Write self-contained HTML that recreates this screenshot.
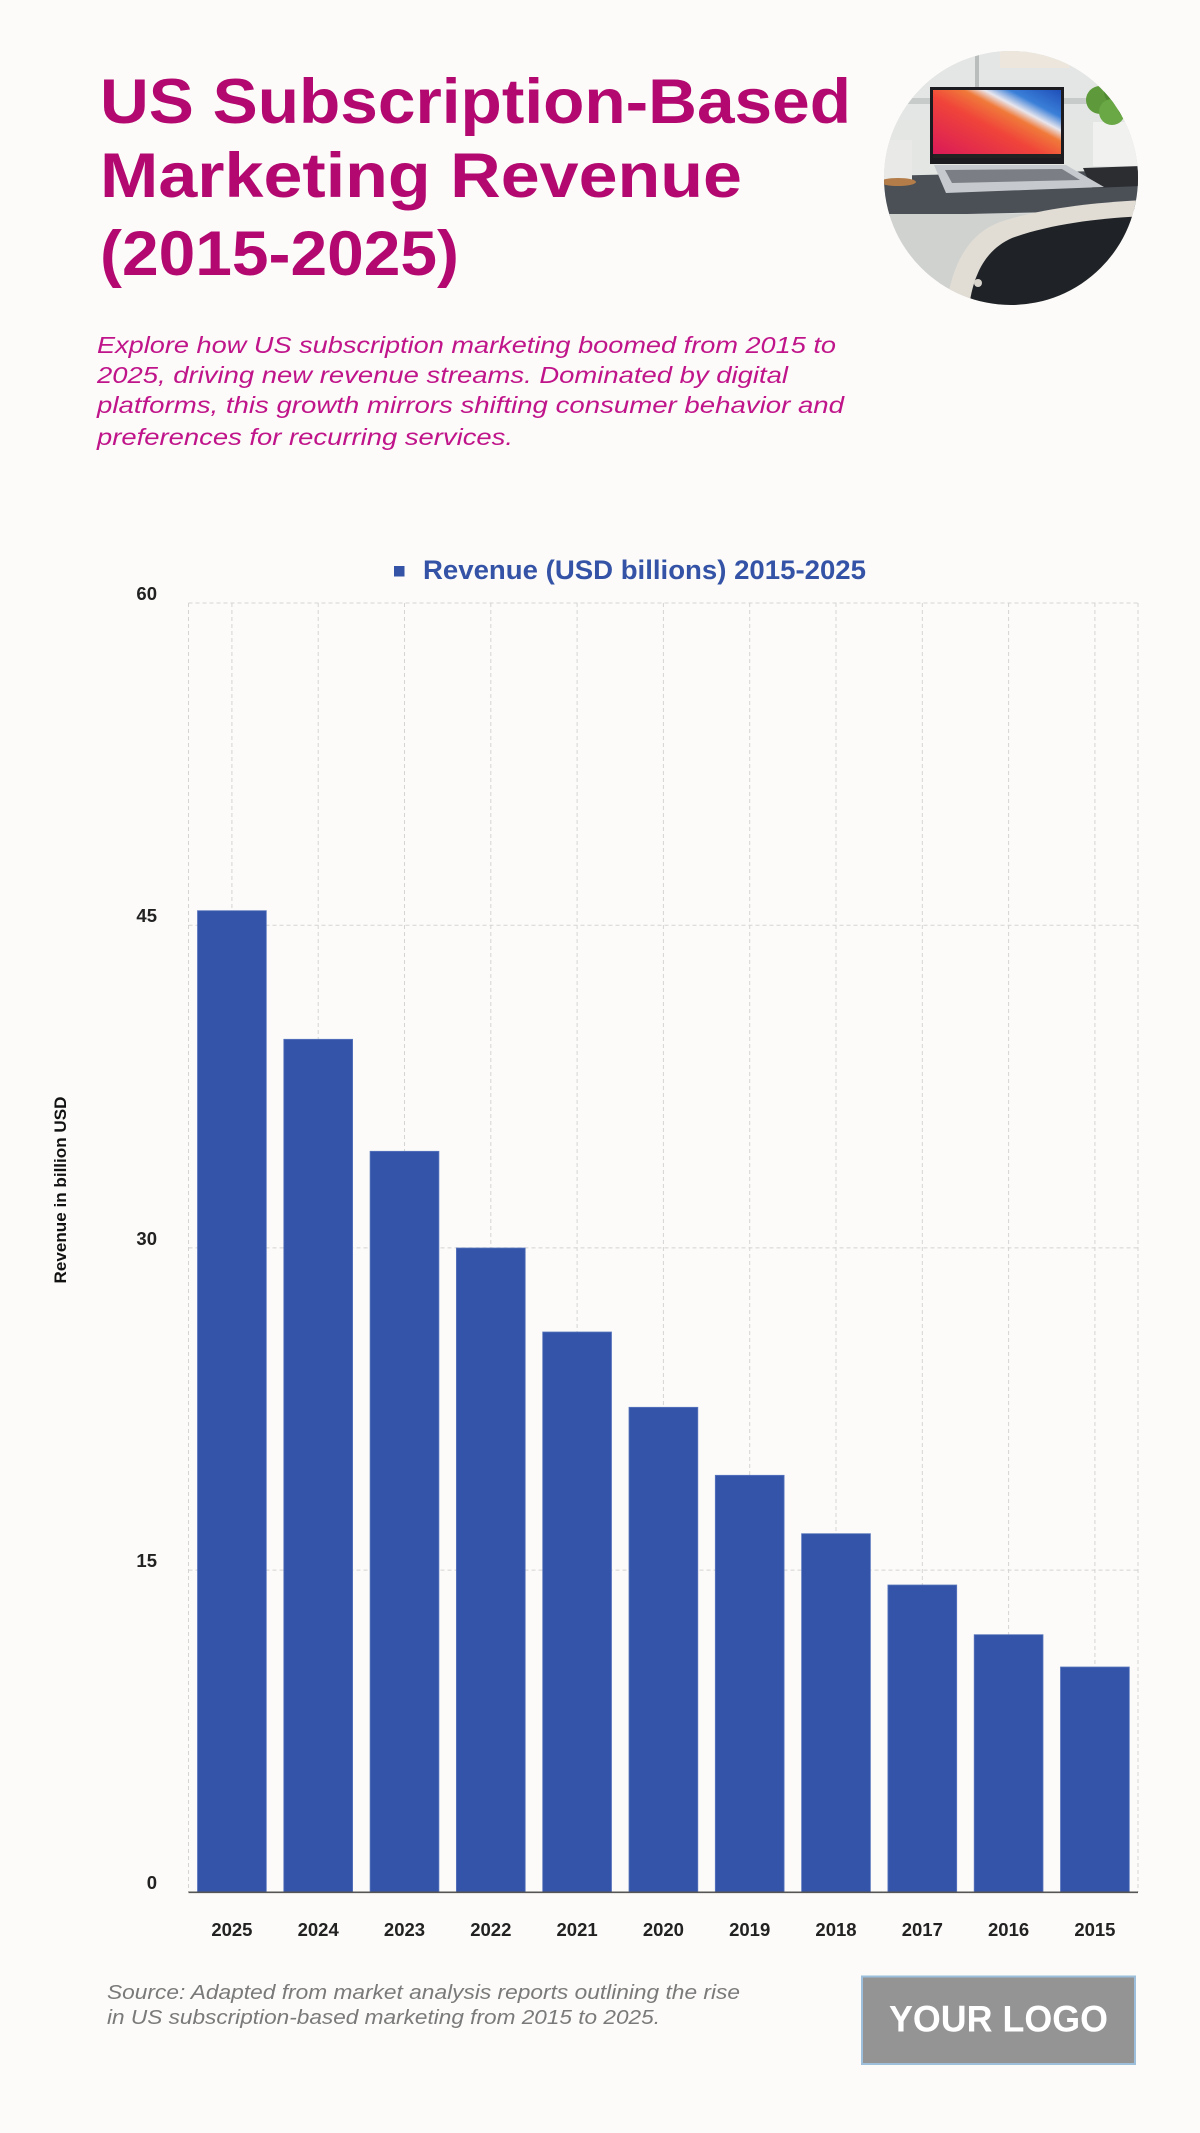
<!DOCTYPE html>
<html>
<head>
<meta charset="utf-8">
<style>
  html, body { margin: 0; padding: 0; background: #fcfbf9; }
  body { width: 1200px; height: 2133px; overflow: hidden; }
  svg { display: block; }
  .t { font-family: "Liberation Sans", sans-serif; }
</style>
</head>
<body>
<svg width="1200" height="2133" viewBox="0 0 1200 2133" xmlns="http://www.w3.org/2000/svg">
  <rect x="0" y="0" width="1200" height="2133" fill="#fcfbf9"/>

  <!-- Title -->
  <g class="t" font-weight="700" font-size="63" fill="#b2086f">
    <text x="100" y="123" textLength="751" lengthAdjust="spacingAndGlyphs">US Subscription-Based</text>
    <text x="100" y="197" textLength="642" lengthAdjust="spacingAndGlyphs">Marketing Revenue</text>
    <text x="100" y="275" textLength="359" lengthAdjust="spacingAndGlyphs">(2015-2025)</text>
  </g>

  <!-- Subtitle -->
  <g class="t" font-style="italic" font-size="23" fill="#c0148a">
    <text x="97" y="353" textLength="739" lengthAdjust="spacingAndGlyphs">Explore how US subscription marketing boomed from 2015 to</text>
    <text x="97" y="383" textLength="691" lengthAdjust="spacingAndGlyphs">2025, driving new revenue streams. Dominated by digital</text>
    <text x="97" y="413" textLength="747" lengthAdjust="spacingAndGlyphs">platforms, this growth mirrors shifting consumer behavior and</text>
    <text x="97" y="445" textLength="416" lengthAdjust="spacingAndGlyphs">preferences for recurring services.</text>
  </g>

  <!-- Photo circle -->
  <defs>
    <clipPath id="circ"><circle cx="1011" cy="178" r="127"/></clipPath>
    <linearGradient id="scr" x1="0" y1="1" x2="1" y2="0">
      <stop offset="0" stop-color="#d8175a"/>
      <stop offset="0.45" stop-color="#f0443a"/>
      <stop offset="0.62" stop-color="#f07a3a"/>
      <stop offset="0.7" stop-color="#e8e6ee"/>
      <stop offset="0.8" stop-color="#3a7fd8"/>
      <stop offset="1" stop-color="#1f4fb8"/>
    </linearGradient>
  </defs>
  <g clip-path="url(#circ)">
    <rect x="880" y="45" width="265" height="270" fill="#d7dad8"/>
    <rect x="880" y="45" width="265" height="75" fill="#e3e6e4"/>
    <rect x="1000" y="48" width="70" height="20" fill="#ece6dc"/>
    <rect x="975" y="45" width="4" height="80" fill="#b9bdbc"/>
    <rect x="880" y="98" width="265" height="6" fill="#c7cbc9"/>
    <rect x="880" y="120" width="265" height="58" fill="#e4e6e4"/>
    <!-- desk -->
    <polygon points="880,176 1145,170 1145,210 880,216" fill="#4b5057"/>
    <rect x="880" y="214" width="265" height="100" fill="#d0d2d0"/>
    <!-- mug -->
    <rect x="880" y="140" width="32" height="40" fill="#e9e9e7"/>
    <ellipse cx="898" cy="182" rx="18" ry="4" fill="#b37c48"/>
    <!-- plant -->
    <rect x="1093" y="122" width="44" height="44" fill="#f1f1ef"/>
    <circle cx="1100" cy="100" r="14" fill="#5e9a3c"/>
    <circle cx="1118" cy="92" r="14" fill="#4f8a32"/>
    <circle cx="1112" cy="112" r="13" fill="#6aa845"/>
    <circle cx="1128" cy="108" r="10" fill="#5a9438"/>
    <!-- phone -->
    <polygon points="1083,168 1140,166 1140,186 1092,188" fill="#2b2d31"/>
    <!-- laptop screen -->
    <rect x="930" y="87" width="134" height="77" fill="#1b1b20"/>
    <rect x="933" y="90" width="128" height="68" fill="url(#scr)"/>
    <rect x="933" y="154" width="128" height="4" fill="#222"/>
    <!-- laptop base -->
    <polygon points="934,165 1066,165 1104,187 946,193" fill="#c6c9cd"/>
    <polygon points="945,170 1062,169 1080,180 952,183" fill="#7b7f85"/>
    <!-- chair -->
    <path d="M945,315 C950,270 965,235 1000,222 C1040,208 1100,202 1145,200 L1145,315 Z" fill="#e1ddd5"/>
    <path d="M968,315 C972,275 985,250 1012,238 C1050,224 1100,218 1145,216 L1145,315 Z" fill="#1f2327"/>
    <circle cx="978" cy="283" r="4" fill="#d8d4cc"/>
  </g>

  <!-- Legend -->
  <rect x="394" y="566" width="10.5" height="10.5" fill="#3453a6"/>
  <text class="t" x="423" y="579" font-size="27" font-weight="700" fill="#3453a6" textLength="443" lengthAdjust="spacingAndGlyphs">Revenue (USD billions) 2015-2025</text>

  <!-- Grid -->
  <g stroke="#d4d4d4" stroke-width="1" stroke-dasharray="4 3" fill="none">
    <line x1="188.5" y1="603" x2="1138" y2="603"/>
    <line x1="188.5" y1="925.3" x2="1138" y2="925.3"/>
    <line x1="188.5" y1="1247.9" x2="1138" y2="1247.9"/>
    <line x1="188.5" y1="1570.1" x2="1138" y2="1570.1"/>
    <line x1="188.5" y1="603" x2="188.5" y2="1892"/>
    <line x1="1138" y1="603" x2="1138" y2="1892"/>
    <line x1="231.9" y1="603" x2="231.9" y2="1892"/>
    <line x1="318.2" y1="603" x2="318.2" y2="1892"/>
    <line x1="404.5" y1="603" x2="404.5" y2="1892"/>
    <line x1="490.8" y1="603" x2="490.8" y2="1892"/>
    <line x1="577.1" y1="603" x2="577.1" y2="1892"/>
    <line x1="663.4" y1="603" x2="663.4" y2="1892"/>
    <line x1="749.7" y1="603" x2="749.7" y2="1892"/>
    <line x1="836.0" y1="603" x2="836.0" y2="1892"/>
    <line x1="922.3" y1="603" x2="922.3" y2="1892"/>
    <line x1="1008.6" y1="603" x2="1008.6" y2="1892"/>
    <line x1="1094.9" y1="603" x2="1094.9" y2="1892"/>
  </g>

  <!-- Bars -->
  <g fill="#3354a8" stroke="#5a76bd" stroke-width="0.8">
    <rect x="197.5" y="910.7" width="68.8" height="981.6"/>
    <rect x="283.8" y="1039.3" width="68.8" height="853.0"/>
    <rect x="370.1" y="1151.3" width="68.8" height="741.0"/>
    <rect x="456.4" y="1248.0" width="68.8" height="644.3"/>
    <rect x="542.7" y="1332.0" width="68.8" height="560.3"/>
    <rect x="629.0" y="1407.3" width="68.8" height="485.0"/>
    <rect x="715.3" y="1475.3" width="68.8" height="417.0"/>
    <rect x="801.6" y="1533.7" width="68.8" height="358.6"/>
    <rect x="887.9" y="1585.0" width="68.8" height="307.3"/>
    <rect x="974.2" y="1634.7" width="68.8" height="257.6"/>
    <rect x="1060.5" y="1667.0" width="68.8" height="225.3"/>
  </g>

  <!-- X axis line -->
  <line x1="188.5" y1="1892.3" x2="1138" y2="1892.3" stroke="#555" stroke-width="1.6"/>

  <!-- Y tick labels -->
  <g class="t" font-size="18.5" font-weight="700" fill="#222" text-anchor="end">
    <text x="157" y="600">60</text>
    <text x="157" y="922">45</text>
    <text x="157" y="1245">30</text>
    <text x="157" y="1567">15</text>
    <text x="157" y="1889">0</text>
  </g>

  <!-- X tick labels -->
  <g class="t" font-size="18.5" font-weight="700" fill="#222" text-anchor="middle">
    <text x="231.9" y="1936">2025</text>
    <text x="318.2" y="1936">2024</text>
    <text x="404.5" y="1936">2023</text>
    <text x="490.8" y="1936">2022</text>
    <text x="577.1" y="1936">2021</text>
    <text x="663.4" y="1936">2020</text>
    <text x="749.7" y="1936">2019</text>
    <text x="836.0" y="1936">2018</text>
    <text x="922.3" y="1936">2017</text>
    <text x="1008.6" y="1936">2016</text>
    <text x="1094.9" y="1936">2015</text>
  </g>

  <!-- Y axis title -->
  <text class="t" transform="translate(66,1190) rotate(-90)" text-anchor="middle" font-size="17" font-weight="700" fill="#111" textLength="187" lengthAdjust="spacingAndGlyphs">Revenue in billion USD</text>

  <!-- Source -->
  <g class="t" font-style="italic" font-size="20.5" fill="#7a7a7a">
    <text x="107" y="1999" textLength="633" lengthAdjust="spacingAndGlyphs">Source: Adapted from market analysis reports outlining the rise</text>
    <text x="107" y="2024" textLength="553" lengthAdjust="spacingAndGlyphs">in US subscription-based marketing from 2015 to 2025.</text>
  </g>

  <!-- Logo -->
  <rect x="862" y="1976.5" width="273" height="87.5" fill="#949494" stroke="#9dbfdc" stroke-width="2"/>
  <text class="t" x="998.5" y="2031.5" text-anchor="middle" font-size="37" font-weight="700" fill="#ffffff" textLength="219" lengthAdjust="spacingAndGlyphs">YOUR LOGO</text>
</svg>
</body>
</html>
